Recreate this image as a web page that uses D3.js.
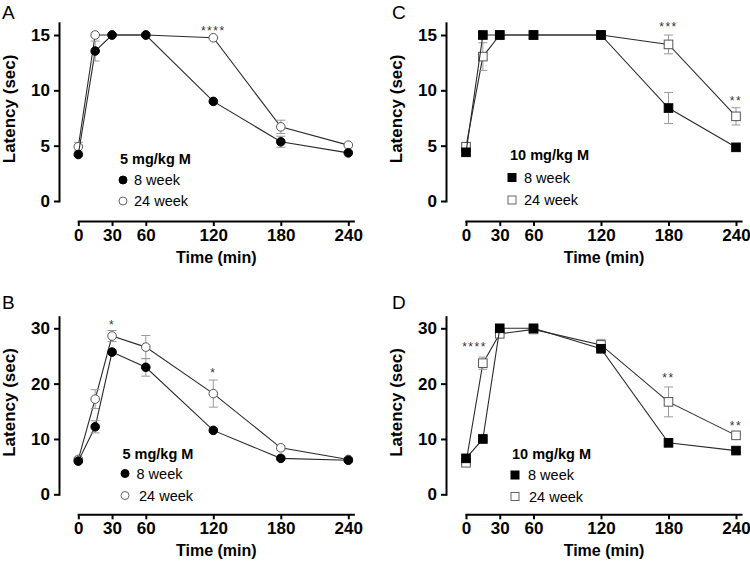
<!DOCTYPE html>
<html>
<head>
<meta charset="utf-8">
<script src="https://cdn.jsdelivr.net/npm/d3@7"></script>
<style>
  body { margin: 0; background: #fff; }
  svg { font-family: Arial, "Liberation Sans", Helvetica, sans-serif; }
  .axis path, .axis line { stroke: #000; stroke-width: 2px; }
  .axis text { font-size: 17px; font-weight: bold; fill: #000; }
</style>
</head>
<body>
<div id="chart"></div>
<script>
// time points (min)
var times = [0, 15, 30, 60, 120, 180, 240];
var xTicks = [0, 30, 60, 120, 180, 240];

// A: 5 mg/kg, 15 s cut-off
var a8 = [4.2, 13.55, 15, 15, 9.0, 5.35, 4.35];
var a8err = [0, 0.9, 0, 0, 0, 0.5, 0];
var a24 = [4.9, 15, 15, 15, 14.75, 6.7, 5.05];
var a24err = [0.4, 0, 0, 0, 0, 0.6, 0];

// B: 5 mg/kg, 30 s cut-off
var b8 = [6.0, 12.2, 25.7, 22.95, 11.55, 6.5, 6.15];
var b8err = [0.3, 1.1, 0.5, 1.6, 0.4, 0.3, 0.3];
var b24 = [6.3, 17.2, 28.6, 26.6, 18.2, 8.4, 6.3];
var b24err = [0.3, 1.7, 1.0, 2.1, 2.45, 0.4, 0.3];

// C: 10 mg/kg, 15 s cut-off
var c8 = [4.4, 15, 15, 15, 15, 8.4, 4.85];
var c8err = [0, 0, 0, 0, 0, 1.4, 0];
var c24 = [4.9, 13.05, 15, 15, 15, 14.15, 7.65];
var c24err = [0.4, 1.25, 0, 0, 0, 0.85, 0.78];

// D: 10 mg/kg, 30 s cut-off
var d8 = [6.5, 10.0, 30, 30, 26.3, 9.3, 7.9];
var d8err = [0.5, 0.4, 0, 0, 0.5, 0.4, 0.3];
var d24 = [5.7, 23.7, 29.0, 29.8, 27.0, 16.7, 10.65];
var d24err = [0.3, 1.1, 0.3, 0.3, 1.0, 2.7, 0.5];

// significance marks [time, latency, label]
var aStars = [[120, 15.6, '****']];
var bStars = [[30, 31.1, '*'], [120, 22.5, '*']];
var cStars = [[180, 15.95, '***'], [240, 9.35, '**']];
var dStars = [[7.6, 27.1, '****'], [180, 21.55, '**'], [240, 12.8, '**']];

var width = 750, height = 565;

var svg = d3.select('#chart').append('svg')
    .attr('width', width)
    .attr('height', height);

var panels = [
    { letter: 'A', lx: 2, ly: 19, ox: 59, x0: 78.3, y0: 201, yTop: 35, yTopVal: 15, yMax: 16.1, yTicks: [0, 5, 10, 15],
      xAxisY: 221, s8: a8, e8: a8err, s24: a24, e24: a24err, stars: aStars, shape: 'circle',
      dose: '5 mg/kg M', legX: 120, legY: 159, markX: 123, textX: [134, 134], legDy: [21, 42] },
    { letter: 'B', lx: 2, ly: 309, ox: 59, x0: 78.3, y0: 494.3, yTop: 328.3, yTopVal: 30, yMax: 32.1, yTicks: [0, 10, 20, 30],
      xAxisY: 514.3, s8: b8, e8: b8err, s24: b24, e24: b24err, stars: bStars, shape: 'circle',
      dose: '5 mg/kg M', legX: 122.5, legY: 454, markX: 125, textX: [136.5, 139], legDy: [19.5, 41.5] },
    { letter: 'C', lx: 392, ly: 19, ox: 446, x0: 466, y0: 201, yTop: 35, yTopVal: 15, yMax: 16.1, yTicks: [0, 5, 10, 15],
      xAxisY: 221, s8: c8, e8: c8err, s24: c24, e24: c24err, stars: cStars, shape: 'square',
      dose: '10 mg/kg M', legX: 510, legY: 155, markX: 512, textX: [524, 524], legDy: [22.5, 45] },
    { letter: 'D', lx: 392, ly: 309, ox: 446, x0: 466, y0: 494.3, yTop: 328.3, yTopVal: 30, yMax: 32.1, yTicks: [0, 10, 20, 30],
      xAxisY: 514.3, s8: d8, e8: d8err, s24: d24, e24: d24err, stars: dStars, shape: 'square',
      dose: '10 mg/kg M', legX: 512, legY: 454, markX: 515, textX: [528, 529], legDy: [21, 42.5] }
];

panels.forEach(function(p) {
    var g = svg.append('g');

    var xScale = d3.scaleLinear().domain([0, 244.5]).range([p.x0, p.x0 + 244.5 * 1.125]);
    var yScale = d3.scaleLinear().domain([0, p.yTopVal]).range([p.y0, p.yTop]);

    // panel letter
    g.append('text')
        .attr('x', p.lx)
        .attr('y', p.ly)
        .style('font-size', '19px')
        .text(p.letter);

    // y axis (domain clipped to the top of the frame)
    var yAxisScale = yScale.copy().domain([0, p.yMax]).range([p.y0, yScale(p.yMax)]);
    g.append('g')
        .attr('class', 'axis y')
        .attr('transform', 'translate(' + p.ox + ',0)')
        .call(d3.axisLeft(yAxisScale).tickValues(p.yTicks).tickSize(5).tickSizeOuter(0).tickPadding(4));

    // x axis, offset below the plot
    g.append('g')
        .attr('class', 'axis x')
        .attr('transform', 'translate(0,' + p.xAxisY + ')')
        .call(d3.axisBottom(xScale).tickValues(xTicks).tickSize(5).tickSizeOuter(0).tickPadding(3));

    g.selectAll('.axis path').attr('stroke-linecap', 'square');

    // axis titles
    g.append('text')
        .attr('transform', 'translate(' + (p.ox - 50) + ',' + ((p.y0 + yScale(p.yMax)) / 2 - 3) + ') rotate(-90)')
        .attr('text-anchor', 'middle')
        .attr('dy', '0.35em')
        .style('font-size', '17px')
        .style('font-weight', 'bold')
        .text('Latency (sec)');

    g.append('text')
        .attr('x', (xScale(0) + xScale(240)) / 2 + 3)
        .attr('y', p.xAxisY + 42)
        .attr('text-anchor', 'middle')
        .style('font-size', '16px')
        .style('font-weight', 'bold')
        .text('Time (min)');

    var line = d3.line()
        .x(function(d) { return xScale(d.t); })
        .y(function(d) { return yScale(d.v); });

    var series = [
        { vals: p.s24, errs: p.e24, open: true },
        { vals: p.s8, errs: p.e8, open: false }
    ];

    series.forEach(function(s) {
        var data = times.map(function(t, i) { return { t: t, v: s.vals[i], e: s.errs[i] }; });

        g.append('path')
            .datum(data)
            .attr('d', line)
            .attr('fill', 'none')
            .attr('stroke', '#2a2a2a')
            .attr('stroke-width', 1.1);

        // error bars
        var eb = g.append('g').selectAll('g')
            .data(data.filter(function(d) { return d.e > 0; }))
            .enter().append('g')
            .attr('stroke', '#9a9a9a')
            .attr('stroke-width', 1);
        eb.append('line')
            .attr('x1', function(d) { return xScale(d.t); })
            .attr('x2', function(d) { return xScale(d.t); })
            .attr('y1', function(d) { return yScale(d.v - d.e); })
            .attr('y2', function(d) { return yScale(d.v + d.e); });
        [-1, 1].forEach(function(sign) {
            eb.append('line')
                .attr('x1', function(d) { return xScale(d.t) - 4.5; })
                .attr('x2', function(d) { return xScale(d.t) + 4.5; })
                .attr('y1', function(d) { return yScale(d.v + sign * d.e); })
                .attr('y2', function(d) { return yScale(d.v + sign * d.e); });
        });

        // markers
        var m;
        if (p.shape === 'circle') {
            m = g.append('g').selectAll('circle').data(data).enter().append('circle')
                .attr('cx', function(d) { return xScale(d.t); })
                .attr('cy', function(d) { return yScale(d.v); })
                .attr('r', 4.3);
        } else {
            m = g.append('g').selectAll('rect').data(data).enter().append('rect')
                .attr('x', function(d) { return xScale(d.t) - 4.3; })
                .attr('y', function(d) { return yScale(d.v) - 4.3; })
                .attr('width', 8.6)
                .attr('height', 8.6);
        }
        m.attr('fill', s.open ? '#fff' : '#000')
            .attr('stroke', s.open ? '#555' : '#000')
            .attr('stroke-width', 1);
    });

    // significance stars
    g.selectAll('.star').data(p.stars).enter().append('text')
        .attr('class', 'star')
        .attr('x', function(d) { return xScale(d[0]); })
        .attr('y', function(d) { return yScale(d[1]) + 7; })
        .attr('text-anchor', 'middle')
        .style('font-size', '12px')
        .style('letter-spacing', '1.5px')
        .attr('fill', '#333')
        .text(function(d) { return d[2]; });

    // legend
    g.append('text')
        .attr('x', p.legX)
        .attr('y', p.legY)
        .attr('dy', '0.35em')
        .style('font-size', '14.5px')
        .style('font-weight', 'bold')
        .text(p.dose);

    [['8 week', false], ['24 week', true]].forEach(function(item, i) {
        var cy = p.legY + p.legDy[i];
        if (p.shape === 'circle') {
            g.append('circle').attr('cx', p.markX).attr('cy', cy).attr('r', 4)
                .attr('fill', item[1] ? '#fff' : '#000').attr('stroke', item[1] ? '#666' : '#000');
        } else {
            g.append('rect').attr('x', p.markX - 4).attr('y', cy - 4).attr('width', 8).attr('height', 8)
                .attr('fill', item[1] ? '#fff' : '#000').attr('stroke', item[1] ? '#666' : '#000');
        }
        g.append('text')
            .attr('x', p.textX[i])
            .attr('y', cy)
            .attr('dy', '0.35em')
            .style('font-size', '14.5px')
            .text(item[0]);
    });
});
</script>
</body>
</html>
